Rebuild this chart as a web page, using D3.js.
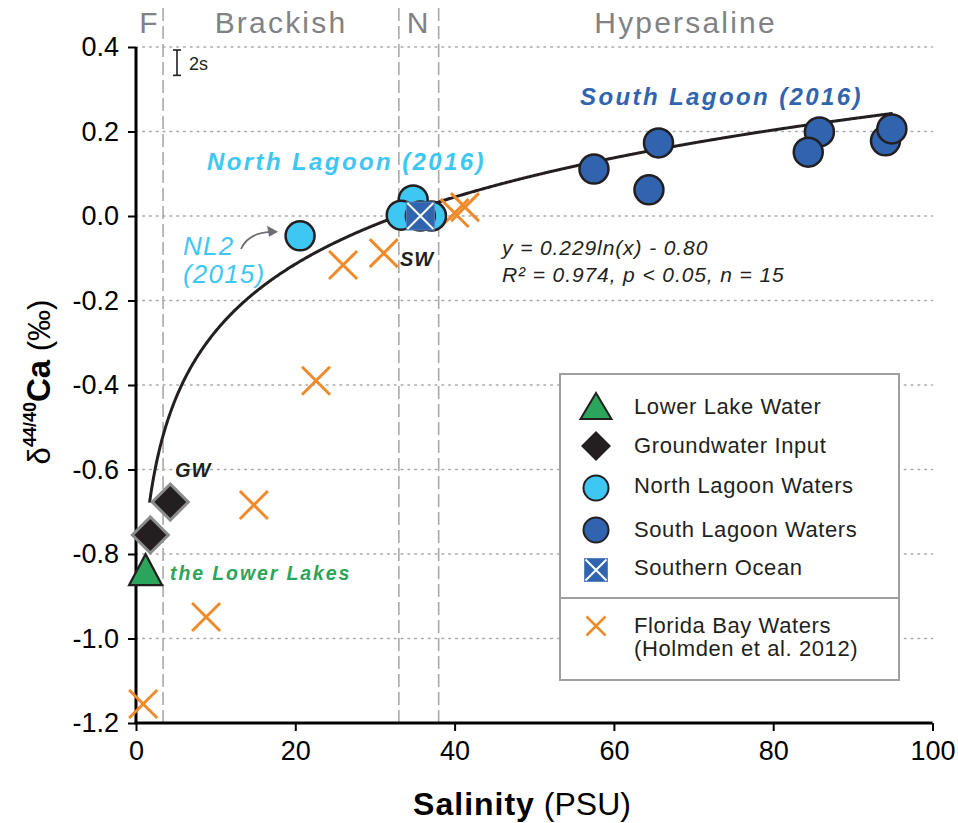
<!DOCTYPE html>
<html>
<head>
<meta charset="utf-8">
<script src="https://cdn.jsdelivr.net/npm/d3@7"></script>
<style>
  html, body { margin: 0; padding: 0; background: #fff; }
  svg { display: block; font-family: "Liberation Sans", Arial, Helvetica, sans-serif; }
</style>
</head>
<body>
<svg id="chart" width="958" height="823"></svg>
<script>
// ---- Data ----
const yTicks = [0.4, 0.2, 0.0, -0.2, -0.4, -0.6, -0.8, -1.0, -1.2];
const yTickLabels = ["0.4", "0.2", "0.0", "-0.2", "-0.4", "-0.6", "-0.8", "-1.0", "-1.2"];
const xTicks = [0, 20, 40, 60, 80, 100];
const xTickLabels = ["0", "20", "40", "60", "80", "100"];

// Salinity zones (PSU boundaries) and their names
const zoneBounds = [0, 3.4, 33, 38, 100];
const zoneNames = ["F", "Brackish", "N", "Hypersaline"];

// Lower Lake water
const lowerLakeSal = [1.2];
const lowerLakeCa = [-0.837];

// Groundwater input
const groundwaterSal = [1.8, 4.3];
const groundwaterCa = [-0.755, -0.677];

// North Lagoon 2016
const northLagoonSal = [34.8, 33.3, 37.1, 35.7];
const northLagoonCa = [0.038, 0.002, 0.0, 0.0];

// NL2 (2015)
const nl2Sal = [20.6];
const nl2Ca = [-0.047];

// South Lagoon 2016
const southLagoonSal = [57.5, 65.6, 64.4, 85.8, 84.4, 94.1, 94.9];
const southLagoonCa = [0.111, 0.173, 0.062, 0.199, 0.151, 0.178, 0.206];

// Southern Ocean seawater
const oceanSal = [35.7];
const oceanCa = [0.0];

// Florida Bay waters (Holmden et al. 2012)
const floridaSal = [0.9, 8.8, 14.8, 22.6, 26.0, 31.1, 40.0, 41.3];
const floridaCa = [-1.155, -0.949, -0.684, -0.39, -0.116, -0.088, 0.007, 0.021];

// Logarithmic fit  y = a ln(x) + b
const fitA = 0.229;
const fitB = -0.80;
const fitR2 = 0.974;
const fitN = 15;
const fitRange = [1.7, 95];

// Analytical uncertainty (2s)
const twoS = 0.06;

// ---- Layout ----
const svg = d3.select("#chart");
const x = d3.scaleLinear().domain([0, 100]).range([136, 932.5]);
const y = d3.scaleLinear().domain([-1.2, 0.4]).range([723, 47]);

const col = {
  grid: "#a7a9ac", zone: "#a7a9ac", zoneText: "#808285", ink: "#231f20",
  green: "#2aa55b", light: "#3ec7f2", dark: "#3164ae", orange: "#f18a2a"
};

// Horizontal dotted grid lines
svg.append("g").selectAll("line")
  .data(yTicks.filter(v => v > -1.2))
  .join("line")
  .attr("x1", x(0)).attr("x2", x(100))
  .attr("y1", d => y(d)).attr("y2", d => y(d))
  .attr("stroke", col.grid).attr("stroke-width", 1.6)
  .attr("stroke-dasharray", "1.6,5.2").attr("stroke-linecap", "round");

// Zone boundaries (dashed verticals)
svg.append("g").selectAll("line")
  .data(zoneBounds.slice(1, -1))
  .join("line")
  .attr("x1", d => x(d)).attr("x2", d => x(d))
  .attr("y1", 8).attr("y2", y(-1.2))
  .attr("stroke", col.zone).attr("stroke-width", 1.6)
  .attr("stroke-dasharray", "13,5");

// Zone names
svg.append("g").selectAll("text")
  .data(zoneNames)
  .join("text")
  .attr("x", (d, i) => x((zoneBounds[i] + zoneBounds[i + 1]) / 2))
  .attr("y", 33)
  .attr("text-anchor", "middle")
  .attr("font-size", 30).attr("letter-spacing", 2.2)
  .attr("fill", col.zoneText)
  .text(d => d);

// Fit curve
const curveData = d3.range(fitRange[0], fitRange[1] + 0.001, 0.1).map(s => [s, fitA * Math.log(s) + fitB]);
svg.append("path")
  .datum(curveData)
  .attr("fill", "none").attr("stroke", col.ink).attr("stroke-width", 3)
  .attr("d", d3.line().x(d => x(d[0])).y(d => y(d[1])).curve(d3.curveLinear));

// Axes
const yAxis = d3.axisLeft(y).tickValues(yTicks).tickFormat((d, i) => yTickLabels[i]).tickSize(8).tickPadding(9);
const gy = svg.append("g").attr("transform", `translate(${x(0)},0)`).call(yAxis);
gy.select(".domain").attr("stroke", "#000").attr("stroke-width", 3).attr("d", `M0,${y(0.4)}V${y(-1.2)}`);
gy.selectAll(".tick line").attr("stroke", "#000").attr("stroke-width", 2);
gy.selectAll(".tick text").attr("font-size", 27).attr("fill", "#000").attr("font-family", "Liberation Sans, Arial, sans-serif");

const xAxis = d3.axisBottom(x).tickValues(xTicks).tickFormat((d, i) => xTickLabels[i]).tickSize(8).tickPadding(10);
const gx = svg.append("g").attr("transform", `translate(0,${y(-1.2)})`).call(xAxis);
gx.select(".domain").attr("stroke", "#000").attr("stroke-width", 3).attr("d", `M${x(0) - 1.5},0H${x(100)}`);
gx.selectAll(".tick line").attr("stroke", "#000").attr("stroke-width", 2);
gx.selectAll(".tick text").attr("font-size", 27).attr("fill", "#000").attr("font-family", "Liberation Sans, Arial, sans-serif");

// Axis titles
const xt = svg.append("text").attr("x", 522).attr("y", 815).attr("text-anchor", "middle")
  .attr("font-size", 32).attr("fill", "#000");
xt.append("tspan").attr("font-weight", "bold").attr("letter-spacing", 1).text("Salinity");
xt.append("tspan").text(" (PSU)");

const yt = svg.append("text").attr("transform", "translate(50,382) rotate(-90)")
  .attr("text-anchor", "middle").attr("font-size", 31).attr("fill", "#000");
yt.append("tspan").text("δ");
yt.append("tspan").attr("font-size", 18).attr("font-weight", "bold").attr("dy", -14).text("44/40");
yt.append("tspan").attr("font-weight", "bold").attr("font-size", 33).attr("dy", 14).text("Ca");
yt.append("tspan").text(" (‰)");

// 2s error bar
const ebx = 177, eby = y(0.4) + 3;
const ebLen = y(0) - y(twoS);
const eb = svg.append("g").attr("stroke", col.ink).attr("stroke-width", 1.6);
eb.append("line").attr("x1", ebx).attr("x2", ebx).attr("y1", eby).attr("y2", eby + ebLen);
eb.append("line").attr("x1", ebx - 4).attr("x2", ebx + 4).attr("y1", eby).attr("y2", eby);
eb.append("line").attr("x1", ebx - 4).attr("x2", ebx + 4).attr("y1", eby + ebLen).attr("y2", eby + ebLen);
svg.append("text").attr("x", 189).attr("y", 70).attr("font-size", 18).attr("fill", col.ink).text("2s");

// ---- Marks ----
const zip = (a, b) => a.map((v, i) => [v, b[i]]);

// Florida Bay crosses
function crossPath(h) { return `M${-h},${-h}L${h},${h}M${-h},${h}L${h},${-h}`; }
svg.append("g").selectAll("path")
  .data(zip(floridaSal, floridaCa))
  .join("path")
  .attr("transform", d => `translate(${x(d[0])},${y(d[1])})`)
  .attr("d", crossPath(14))
  .attr("fill", "none").attr("stroke", col.orange).attr("stroke-width", 3);

// NL2 circle
svg.append("g").selectAll("circle")
  .data(zip(nl2Sal, nl2Ca))
  .join("circle")
  .attr("cx", d => x(d[0])).attr("cy", d => y(d[1])).attr("r", 14.5)
  .attr("fill", col.light).attr("stroke", col.ink).attr("stroke-width", 2.5);

// North Lagoon circles
svg.append("g").selectAll("circle")
  .data(zip(northLagoonSal, northLagoonCa))
  .join("circle")
  .attr("cx", d => x(d[0])).attr("cy", d => y(d[1])).attr("r", 14.5)
  .attr("fill", col.light).attr("stroke", col.ink).attr("stroke-width", 2.5);

// Southern Ocean square with white cross
function oceanMark(g, s) {
  g.append("rect").attr("x", -s / 2).attr("y", -s / 2).attr("width", s).attr("height", s)
    .attr("fill", col.dark).attr("stroke", "#5b83c2").attr("stroke-width", 1);
  g.append("path").attr("d", crossPath(s / 2 - 1)).attr("stroke", "#fff").attr("stroke-width", 2);
}
svg.append("g").selectAll("g")
  .data(zip(oceanSal, oceanCa))
  .join("g")
  .attr("transform", d => `translate(${x(d[0])},${y(d[1])})`)
  .each(function () { oceanMark(d3.select(this), 28); });

// South Lagoon circles
svg.append("g").selectAll("circle")
  .data(zip(southLagoonSal, southLagoonCa))
  .join("circle")
  .attr("cx", d => x(d[0])).attr("cy", d => y(d[1])).attr("r", 14.5)
  .attr("fill", col.dark).attr("stroke", col.ink).attr("stroke-width", 2.5);

// Groundwater diamonds
function diamondPath(h) { return `M0,${-h}L${h},0L0,${h}L${-h},0Z`; }
svg.append("g").selectAll("path")
  .data(zip(groundwaterSal, groundwaterCa))
  .join("path")
  .attr("transform", d => `translate(${x(d[0])},${y(d[1])})`)
  .attr("d", diamondPath(18))
  .attr("fill", col.ink).attr("stroke", "#8a8c8e").attr("stroke-width", 3);

// Lower Lake triangle
function trianglePath(w, h) { return `M0,${-h / 2}L${w / 2},${h / 2}L${-w / 2},${h / 2}Z`; }
svg.append("g").selectAll("path")
  .data(zip(lowerLakeSal, lowerLakeCa))
  .join("path")
  .attr("transform", d => `translate(${x(d[0])},${y(d[1])})`)
  .attr("d", trianglePath(33, 31))
  .attr("fill", col.green).attr("stroke", col.ink).attr("stroke-width", 2.2).attr("stroke-linejoin", "miter");

// ---- Annotations ----
svg.append("text").attr("x", 580).attr("y", 105).attr("font-size", 24).attr("font-weight", "bold")
  .attr("font-style", "italic").attr("letter-spacing", 2.4).attr("fill", col.dark).text("South Lagoon (2016)");
svg.append("text").attr("x", 207).attr("y", 170).attr("font-size", 24).attr("font-weight", "bold")
  .attr("font-style", "italic").attr("letter-spacing", 2.4).attr("fill", col.light).text("North Lagoon (2016)");
svg.append("text").attr("x", 183).attr("y", 255).attr("font-size", 26).attr("font-style", "italic")
  .attr("letter-spacing", 1.2).attr("fill", col.light).text("NL2");
svg.append("text").attr("x", 183).attr("y", 283).attr("font-size", 26).attr("font-style", "italic")
  .attr("letter-spacing", 1.2).attr("fill", col.light).text("(2015)");
// arrow to NL2
const nlx = x(nl2Sal[0]) - 22, nly = y(nl2Ca[0]) - 4;
svg.append("path").attr("d", `M241,249 Q248,233 ${nlx - 8},${nly}`)
  .attr("fill", "none").attr("stroke", "#6d6e71").attr("stroke-width", 1.8);
svg.append("path").attr("d", `M${nlx},${nly} L${nlx - 11},${nly - 6} L${nlx - 9},${nly + 5} Z`)
  .attr("fill", "#6d6e71");

svg.append("text").attr("x", 400).attr("y", 266).attr("font-size", 20).attr("font-weight", "bold")
  .attr("font-style", "italic").attr("letter-spacing", 1).attr("fill", col.ink).text("SW");
svg.append("text").attr("x", 175).attr("y", 477).attr("font-size", 20).attr("font-weight", "bold")
  .attr("font-style", "italic").attr("letter-spacing", 1).attr("fill", col.ink).text("GW");
svg.append("text").attr("x", 170).attr("y", 580).attr("font-size", 19.5).attr("font-weight", "bold")
  .attr("font-style", "italic").attr("letter-spacing", 1.9).attr("fill", col.green).text("the Lower Lakes");

svg.append("text").attr("x", 502).attr("y", 255).attr("font-size", 21).attr("font-style", "italic")
  .attr("letter-spacing", 0.9).attr("fill", col.ink)
  .text(`y = ${fitA.toFixed(3)}ln(x) - ${Math.abs(fitB).toFixed(2)}`);
svg.append("text").attr("x", 502).attr("y", 282).attr("font-size", 21).attr("font-style", "italic")
  .attr("letter-spacing", 0.9).attr("fill", col.ink)
  .text(`R² = ${fitR2.toFixed(3)}, p < 0.05, n = ${fitN}`);

// ---- Legend ----
const lg = svg.append("g");
lg.append("rect").attr("x", 560).attr("y", 374).attr("width", 339).attr("height", 306)
  .attr("fill", "#fff").attr("stroke", "#9d9fa2").attr("stroke-width", 2);
lg.append("line").attr("x1", 560).attr("x2", 899).attr("y1", 598).attr("y2", 598)
  .attr("stroke", "#9d9fa2").attr("stroke-width", 2);

const lx = 596, tx = 634;
const legendRows = [
  { label: "Lower Lake Water", cy: 406, base: 414 },
  { label: "Groundwater Input", cy: 446, base: 453 },
  { label: "North Lagoon Waters", cy: 488, base: 493 },
  { label: "South Lagoon Waters", cy: 530, base: 537 },
  { label: "Southern Ocean", cy: 570, base: 575 }
];
lg.append("path").attr("transform", `translate(${lx},${legendRows[0].cy})`).attr("d", trianglePath(31, 26))
  .attr("fill", col.green).attr("stroke", col.ink).attr("stroke-width", 2);
lg.append("path").attr("transform", `translate(${lx},${legendRows[1].cy})`).attr("d", diamondPath(15))
  .attr("fill", col.ink);
lg.append("circle").attr("cx", lx).attr("cy", legendRows[2].cy).attr("r", 12.5)
  .attr("fill", col.light).attr("stroke", col.ink).attr("stroke-width", 2);
lg.append("circle").attr("cx", lx).attr("cy", legendRows[3].cy).attr("r", 12.5)
  .attr("fill", col.dark).attr("stroke", col.ink).attr("stroke-width", 2);
lg.append("g").attr("transform", `translate(${lx},${legendRows[4].cy})`).each(function () { oceanMark(d3.select(this), 23); });
lg.append("path").attr("transform", `translate(${lx},626)`).attr("d", crossPath(9.5))
  .attr("fill", "none").attr("stroke", col.orange).attr("stroke-width", 2.5);

lg.selectAll("text.row").data(legendRows).join("text").attr("class", "row")
  .attr("x", tx).attr("y", d => d.base).attr("font-size", 22).attr("letter-spacing", 0.6)
  .attr("fill", col.ink).text(d => d.label);
lg.append("text").attr("x", tx).attr("y", 633).attr("font-size", 22).attr("letter-spacing", 0.6)
  .attr("fill", col.ink).text("Florida Bay Waters");
lg.append("text").attr("x", tx).attr("y", 656).attr("font-size", 22).attr("letter-spacing", 0.6)
  .attr("fill", col.ink).text("(Holmden et al. 2012)");
</script>
</body>
</html>
